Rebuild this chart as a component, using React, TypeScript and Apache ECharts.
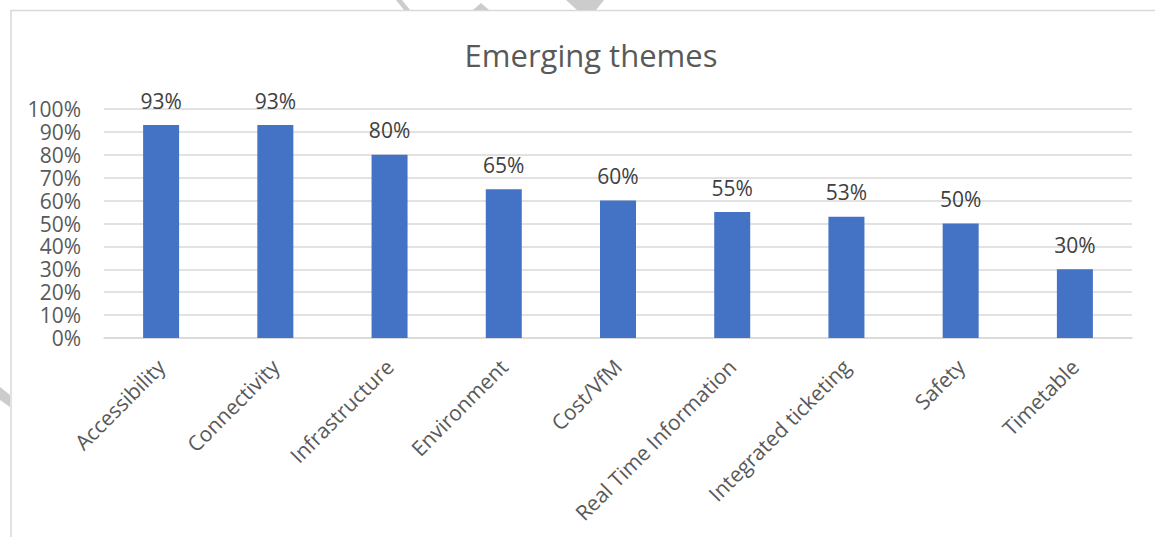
import React, { useEffect, useRef } from "react";
import * as echarts from "echarts";

const categories = [
  "Accessibility",
  "Connectivity",
  "Infrastructure",
  "Environment",
  "Cost/VfM",
  "Real Time Information",
  "Integrated ticketing",
  "Safety",
  "Timetable",
];
const values = [93, 93, 80, 65, 60, 55, 53, 50, 30];
const titleText = "Emerging themes";

const FONT = "'Open Sans', 'Liberation Sans', sans-serif";
const TEXT = "#595959";

export default function App() {
  const ref = useRef<HTMLDivElement>(null);
  useEffect(() => {
    if (!ref.current) return;
    const chart = echarts.init(ref.current, null, { renderer: "svg" });
    chart.setOption({
      animation: false,
      backgroundColor: "#ffffff",
      title: {
        text: titleText,
        left: 586,
        textAlign: "center",
        top: 34,
        textStyle: { fontFamily: FONT, fontSize: 31, fontWeight: "normal", color: TEXT },
      },
      grid: { left: 104, right: 23, top: 109, bottom: 199, containLabel: false },
      xAxis: {
        type: "category",
        data: categories,
        axisLine: { lineStyle: { color: "#d9d9d9", width: 1.5 } },
        axisTick: { show: false },
        axisLabel: {
          rotate: 45,
          interval: 0,
          margin: 25,
          fontFamily: FONT,
          fontSize: 21,
          color: TEXT,
        },
      },
      yAxis: {
        type: "value",
        min: 0,
        max: 100,
        interval: 10,
        axisLine: { show: false },
        axisTick: { show: false },
        splitLine: { lineStyle: { color: "#d9d9d9", width: 1.5 } },
        axisLabel: {
          formatter: "{value}%",
          margin: 23,
          fontFamily: FONT,
          fontSize: 21,
          lineHeight: 20,
          color: TEXT,
        },
      },
      series: [
        {
          type: "bar",
          data: values,
          barWidth: 36,
          itemStyle: { color: "#4472C4" },
          label: {
            show: true,
            position: "top",
            distance: 14,
            formatter: "{c}%",
            fontFamily: FONT,
            fontSize: 21,
            color: "#404040",
          },
        },
      ],
      graphic: [
        {
          type: "rect",
          shape: { x: 11, y: 10.5, width: 1160, height: 540 },
          style: { fill: "none", stroke: "#d9d9d9", lineWidth: 1.5 },
          silent: true,
        },
        {
          type: "polygon",
          shape: { points: [[396, 0], [402, 0], [410, 10], [404, 10]] },
          style: { fill: "#cccccc" },
          silent: true,
        },
        {
          type: "polygon",
          shape: { points: [[473, 10], [481, 3], [489, 10]] },
          style: { fill: "#cccccc" },
          silent: true,
        },
        {
          type: "polygon",
          shape: { points: [[566, 0], [604, 0], [596, 10], [577, 10]] },
          style: { fill: "#cccccc" },
          silent: true,
        },
        {
          type: "polygon",
          shape: { points: [[0, 387], [10, 395], [10, 407], [0, 400]] },
          style: { fill: "#cccccc" },
          silent: true,
        },
      ],
    });
    return () => chart.dispose();
  }, []);
  return (
    <div
      ref={ref}
      style={{ position: "fixed", left: 0, top: 0, width: 1155, height: 537 }}
    />
  );
}
